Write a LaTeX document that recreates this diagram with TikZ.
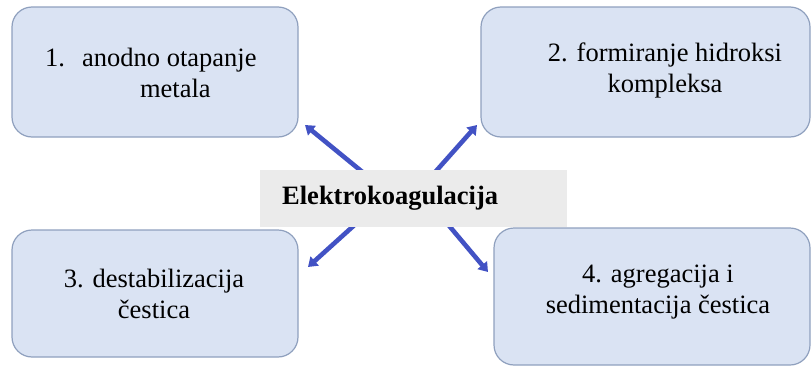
\documentclass[tikz,border=0pt]{standalone}
\usepackage{fontspec}
\setmainfont{Liberation Serif}
\usetikzlibrary{arrows.meta}
\definecolor{boxfill}{RGB}{218,227,243}
\definecolor{boxline}{RGB}{143,160,190}
\definecolor{arrblue}{RGB}{66,82,196}
\definecolor{centerfill}{RGB}{235,235,235}
\newcommand{\bodyfont}{\fontsize{26.5}{31}\selectfont}
\tikzset{
  stepbox/.style={draw=boxline, fill=boxfill, line width=1.2pt, rounded corners=20pt, inner sep=0pt},
  centerbox/.style={fill=centerfill, draw=none, inner sep=0pt, minimum width=307pt, minimum height=57pt},
  boxtext/.style={font=\bodyfont, inner sep=0pt},
  arr/.style={draw=arrblue, line width=4.6pt, -{Triangle[length=9pt,width=12pt]}}
}
\begin{document}
\begin{tikzpicture}[x=1pt,y=-1pt]
\useasboundingbox (0,0) rectangle (812,367);
% arrow coordinates
\coordinate (s1) at (382,188);
\coordinate (s2) at (421,188);
\coordinate (s3) at (370,211);
\coordinate (s4) at (435,209);
\coordinate (e1) at (305,125);
\coordinate (e2) at (477,125);
\coordinate (e3) at (308,267);
\coordinate (e4) at (488,272);
\draw[arr] (s1) -- (e1);
\draw[arr] (s2) -- (e2);
\draw[arr] (s3) -- (e3);
\draw[arr] (s4) -- (e4);
% center
\node[centerbox] (ek) at (413.5,198.5) {};
\node[font=\fontsize{26.5}{31}\selectfont\bfseries, inner sep=0pt, anchor=base west] (ektext) at (282,204) {Elektrokoagulacija};
% boxes
\node[stepbox, minimum width=286pt, minimum height=130pt] (box1) at (155,72) {};
\node[stepbox, minimum width=329pt, minimum height=130pt] (box2) at (645.5,72) {};
\node[stepbox, minimum width=286pt, minimum height=127pt] (box3) at (155,293.5) {};
\node[stepbox, minimum width=316pt, minimum height=137pt] (box4) at (652,296.5) {};
% texts
\node[boxtext, anchor=base west] (t1) at (45,66) {\begin{tabular}[t]{@{}l@{}c@{}}\makebox[37pt][l]{1.} & anodno otapanje\\ & \hspace*{12pt}metala\end{tabular}};
\node[boxtext, anchor=base] (t2) at (665,61) {\begin{tabular}[t]{@{}c@{}}2. formiranje hidroksi\\kompleksa\end{tabular}};
\node[boxtext, anchor=base] (t3) at (154,287) {\begin{tabular}[t]{@{}c@{}}3. destabilizacija\\čestica\end{tabular}};
\node[boxtext, anchor=base] (t4) at (658,282) {\begin{tabular}[t]{@{}c@{}}4. agregacija i\\sedimentacija čestica\end{tabular}};
\end{tikzpicture}
\end{document}
